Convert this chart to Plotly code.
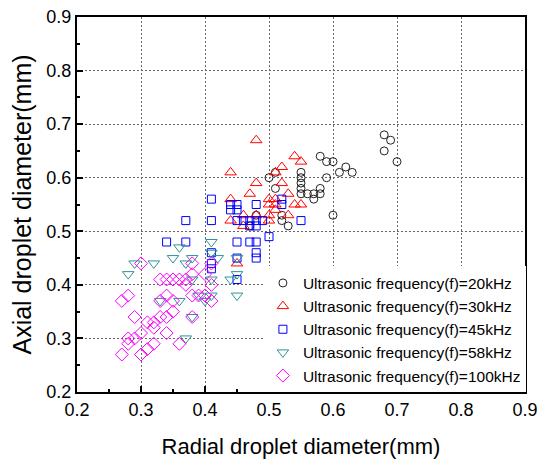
import plotly.graph_objects as go

# 20 kHz (black circles)
c20_x = [0.68,0.69,0.68,0.70,0.58,0.59,0.60,0.61,0.62,0.63,0.55,0.59,0.50,0.51,0.51,0.55,0.55,0.55,0.55,0.56,0.57,0.58,0.58,0.57,0.60,0.48,0.52,0.52,0.53,0.47]
c20_y = [0.68,0.67,0.65,0.63,0.64,0.63,0.63,0.61,0.62,0.61,0.61,0.60,0.60,0.61,0.58,0.60,0.59,0.58,0.57,0.57,0.57,0.58,0.57,0.56,0.53,0.53,0.53,0.52,0.51,0.51]
# 30 kHz (red triangles)
r30_x = [0.48,0.54,0.55,0.52,0.51,0.44,0.48,0.52,0.47,0.53,0.44,0.50,0.51,0.50,0.51,0.54,0.55,0.51,0.53,0.50,0.50,0.48,0.46,0.44,0.46,0.45]
r30_y = [0.67,0.64,0.63,0.62,0.61,0.61,0.59,0.59,0.57,0.57,0.56,0.56,0.56,0.55,0.55,0.55,0.55,0.54,0.53,0.53,0.52,0.53,0.53,0.52,0.51,0.44]
# 45 kHz (blue squares)
b45_x = [0.41,0.44,0.45,0.44,0.45,0.48,0.52,0.52,0.37,0.41,0.45,0.46,0.47,0.48,0.49,0.55,0.50,0.34,0.37,0.45,0.47,0.48,0.48,0.48,0.41,0.41,0.45,0.45,0.55,0.47,0.48,0.41]
b45_y = [0.56,0.55,0.55,0.54,0.54,0.55,0.56,0.55,0.52,0.52,0.52,0.52,0.52,0.52,0.52,0.52,0.49,0.48,0.48,0.48,0.48,0.48,0.46,0.45,0.46,0.43,0.45,0.41,0.41,0.51,0.51,0.44]
# 58 kHz (teal inverted triangles)
t58_x = [0.29,0.32,0.28,0.35,0.36,0.37,0.38,0.41,0.41,0.42,0.45,0.45,0.44,0.41,0.38,0.45,0.41,0.39,0.40,0.36,0.33,0.38,0.37]
t58_y = [0.44,0.44,0.42,0.45,0.47,0.44,0.45,0.48,0.46,0.45,0.45,0.42,0.41,0.41,0.41,0.38,0.38,0.38,0.37,0.37,0.37,0.34,0.30]
# 100 kHz (magenta diamonds)
m100_x = [0.30,0.28,0.27,0.29,0.28,0.27,0.28,0.29,0.30,0.30,0.31,0.32,0.36,0.33,0.34,0.35,0.36,0.37,0.38,0.38,0.37,0.40,0.41,0.41,0.33,0.34,0.35,0.38,0.39,0.40,0.41,0.32,0.33,0.34,0.35,0.32,0.34,0.38,0.31]
m100_y = [0.44,0.38,0.37,0.34,0.30,0.27,0.29,0.30,0.31,0.27,0.28,0.29,0.29,0.41,0.41,0.41,0.41,0.41,0.44,0.42,0.40,0.42,0.44,0.40,0.37,0.38,0.37,0.38,0.38,0.38,0.37,0.33,0.34,0.34,0.35,0.32,0.31,0.34,0.33]

names = ["Ultrasonic frequency(f)=20kHz", "Ultrasonic frequency(f)=30kHz",
         "Ultrasonic frequency(f)=45kHz", "Ultrasonic frequency(f)=58kHz",
         "Ultrasonic frequency(f)=100kHz"]

series = [
    (c20_x, c20_y, "circle-open", "#222222", 8),
    (r30_x, r30_y, "triangle-up-open", "#ff0000", 10),
    (b45_x, b45_y, "square-open", "#0000ff", 8),
    (t58_x, t58_y, "triangle-down-open", "#2e9494", 10),
    (m100_x, m100_y, "diamond-open", "#ff00ff", 10),
]

fig = go.Figure()
for (xs, ys, sym, col, sz), nm in zip(series, names):
    fig.add_trace(go.Scatter(x=xs, y=ys, mode="markers", name=nm,
                             marker=dict(symbol=sym, color=col, size=sz,
                                         line=dict(width=1, color=col))))

font_fam = "Liberation Sans, Arial, sans-serif"
axis_common = dict(
    showline=True, linewidth=2, linecolor="black", mirror=True,
    ticks="inside", ticklen=6, tickwidth=1.5, tickcolor="black",
    showgrid=True, gridcolor="#666666", gridwidth=1, griddash="2px,2px",
    zeroline=False, dtick=0.1, tickformat=".1f",
    tickfont=dict(size=18, color="black", family=font_fam),
    minor=dict(ticks="inside", ticklen=3, tickcolor="black", dtick=0.05, showgrid=False),
)

fig.update_xaxes(range=[0.2, 0.9], tick0=0.2,
                 title=dict(text="Radial droplet diameter(mm)", standoff=20,
                            font=dict(size=22, color="black", family=font_fam)),
                 **axis_common)
fig.update_yaxes(range=[0.2, 0.9], tick0=0.2,
                 title=dict(text="Axial droplet diameter(mm)", standoff=8,
                            font=dict(size=25, color="black", family=font_fam)),
                 **axis_common)

fig.update_layout(
    width=539, height=466,
    margin=dict(l=77, r=14, t=17, b=74, autoexpand=False),
    paper_bgcolor="white", plot_bgcolor="white",
    font=dict(family=font_fam, color="black"),
    legend=dict(x=0.415, y=0.335, xanchor="left", yanchor="top",
                bgcolor="rgba(255,255,255,1)", borderwidth=0,
                font=dict(size=15.5, color="black", family=font_fam),
                itemwidth=30),
    showlegend=True,
)

fig.write_html("out.html", config={"displayModeBar": False},
               post_script="document.body.style.margin='0';document.body.style.padding='0';")
